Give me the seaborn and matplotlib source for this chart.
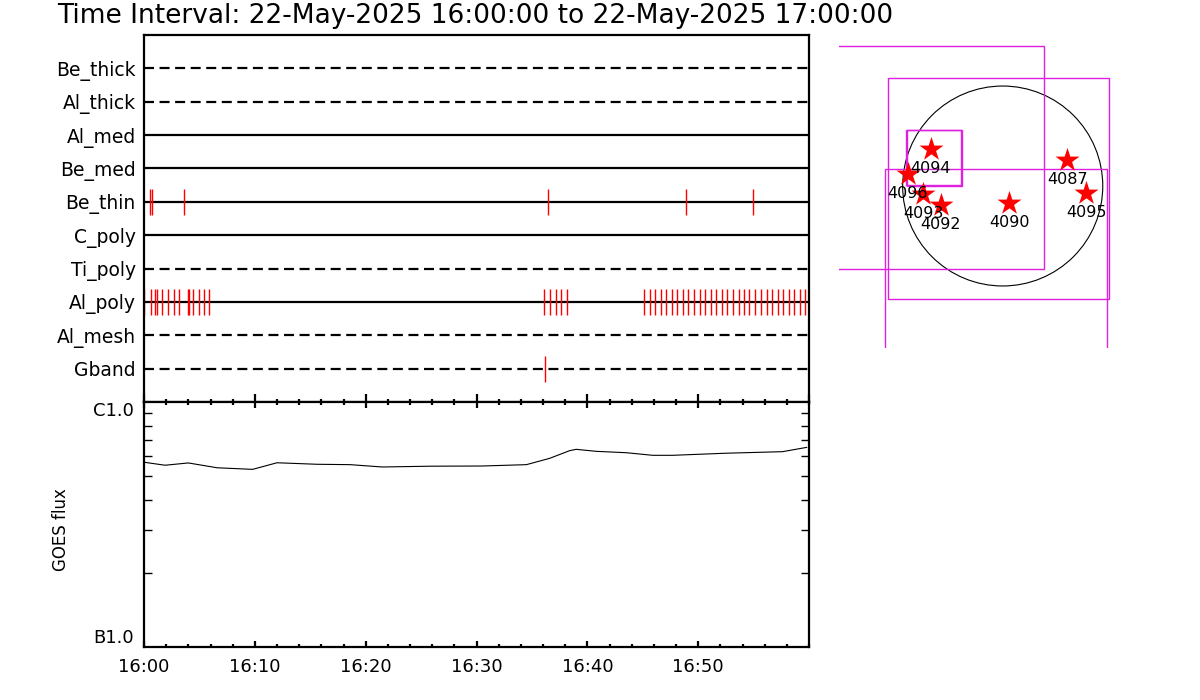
import seaborn as sns
import matplotlib.pyplot as plt
from matplotlib.patches import Circle, Rectangle
from matplotlib.ticker import FixedLocator, MultipleLocator, NullFormatter

title = "Time Interval: 22-May-2025 16:00:00 to 22-May-2025 17:00:00"

# detector rows, top to bottom
detectors = ["Be_thick", "Al_thick", "Al_med", "Be_med", "Be_thin",
             "C_poly", "Ti_poly", "Al_poly", "Al_mesh", "Gband"]
row_dashed = [True, True, False, False, False, False, True, False, True, True]

# exposure times, minutes after 16:00
be_thin_events = [0.57, 0.72, 3.64, 36.45, 48.88, 54.92]
al_poly_events = [0.0, 0.66, 1.02, 1.17, 1.65, 2.18, 2.67, 3.18, 3.93, 4.02,
                  4.39, 4.93, 5.44, 5.89,
                  36.12, 36.63, 37.15, 37.65, 38.14,
                  45.14, 45.63, 46.13, 46.62, 47.13, 47.61, 48.12, 48.61,
                  49.08, 49.65, 50.14, 50.64, 51.16, 51.64, 52.15, 52.63,
                  53.14, 53.65, 54.13, 54.62, 55.13, 55.67, 56.18, 56.69,
                  57.18, 57.68, 58.17, 58.68, 59.19, 59.67]
gband_events = [36.2]

# GOES 1-8 A flux
goes_minutes = [0.1, 1.9, 4.0, 6.6, 9.8, 12.0, 15.6, 18.6, 21.5, 25.8, 30.5,
                34.5, 36.6, 38.4, 39.0, 40.8, 43.5, 45.9, 47.7, 52.5, 57.6, 59.8]
goes_flux = [5.67e-7, 5.52e-7, 5.64e-7, 5.39e-7, 5.31e-7, 5.65e-7, 5.57e-7,
             5.55e-7, 5.43e-7, 5.47e-7, 5.48e-7, 5.55e-7, 5.89e-7, 6.33e-7,
             6.41e-7, 6.29e-7, 6.21e-7, 6.06e-7, 6.06e-7, 6.18e-7, 6.27e-7,
             6.53e-7]

time_ticks = [0, 10, 20, 30, 40, 50]
time_labels = ["16:00", "16:10", "16:20", "16:30", "16:40", "16:50"]

# active regions on the disk (arcsec)
ar_numbers = ["4094", "4096", "4093", "4092", "4090", "4087", "4095"]
ar_x = [-681, -902, -754, -586, 60, 614, 791]
ar_y = [352, 114, -79, -181, -159, 247, -64]

# pointing boxes (arcsec): x0, x1, y0, y1
box_x0 = [-2000, -1093, -1115, -919, -907]
box_x1 = [395, 1013, 994, -394, -384]
box_y0 = [-789, -1074, -2000, 10, 0]
box_y1 = [1330, 1029, 159, 529, 529]

sns.set_style("ticks")
plt.rcParams["font.family"] = ["DejaVu Sans"]
plt.rcParams["axes.linewidth"] = 1.6
for key in ["text.color", "axes.labelcolor", "axes.edgecolor",
            "xtick.color", "ytick.color"]:
    plt.rcParams[key] = "black"

fig = plt.figure(figsize=(12, 7), dpi=100)
ax1 = fig.add_axes([0.12, 0.4257, 0.5542, 0.5243])
ax2 = fig.add_axes([0.12, 0.0757, 0.5542, 0.35])
ax3 = fig.add_axes([0.6992, 0.5029, 0.2575, 0.4414])

fig.text(0.0475, 0.977, title, fontsize=19, ha="left", va="center")

# --- detector timeline
rows = list(range(1, len(detectors) + 1))
for r, dashed in zip(rows, row_dashed):
    ax1.hlines(r, 0, 60, color="black", lw=1.6,
               linestyles=(0, (4.5, 2.5)) if dashed else "solid")
events = {"Be_thin": be_thin_events, "Al_poly": al_poly_events, "Gband": gband_events}
for name, times in events.items():
    r = detectors.index(name) + 1
    ax1.vlines(times, r - 0.39, r + 0.39, color="red", lw=1.0)
ax1.set_xlim(0, 60)
ax1.set_ylim(11, 0)
ax1.set_yticks(rows)
ax1.set_yticklabels(detectors, fontsize=13.5)
ax1.tick_params(axis="y", length=0, pad=6)
ax1.xaxis.set_major_locator(MultipleLocator(10))
ax1.xaxis.set_minor_locator(MultipleLocator(2))
ax1.tick_params(axis="x", which="major", direction="in", length=6, width=1.6,
                labelbottom=False)
ax1.tick_params(axis="x", which="minor", direction="in", length=2, width=1.6)

# --- GOES light curve
sns.lineplot(x=goes_minutes, y=goes_flux, ax=ax2, color="black", lw=0.8)
ax2.set_yscale("log")
ax2.set_xlim(0, 60)
ax2.set_ylim(1e-7, 1e-6)
ax2.set_yticks([1e-7, 1e-6])
ax2.set_yticklabels(["B1.0", "C1.0"], fontsize=13)
ax2.yaxis.set_minor_locator(FixedLocator([k * 1e-7 for k in range(2, 10)]))
ax2.yaxis.set_minor_formatter(NullFormatter())
ax2.tick_params(axis="y", which="major", length=0, pad=7)
ax2.tick_params(axis="y", which="minor", direction="in", length=6, width=1,
                left=True, right=True)
lab = ax2.get_yticklabels()
lab[0].set_va("bottom")
lab[1].set_va("top")
ax2.set_xticks(time_ticks)
ax2.set_xticklabels(time_labels, fontsize=13)
ax2.xaxis.set_minor_locator(MultipleLocator(2))
ax2.tick_params(axis="x", which="major", direction="in", length=4, width=1.6,
                top=True, pad=8)
ax2.tick_params(axis="x", which="minor", direction="in", length=2, width=1.6,
                top=True)
ax2.set_ylabel("GOES flux", fontsize=12)
ax2.yaxis.set_label_coords(-0.111, 0.478)

# --- solar disk and pointing
ax3.add_patch(Circle((0, 0), 950, fill=False, color="black", lw=0.8))
for x0, x1, y0, y1 in zip(box_x0, box_x1, box_y0, box_y1):
    ax3.add_patch(Rectangle((x0, y0), x1 - x0, y1 - y0, fill=False,
                            edgecolor="#e020e0", lw=1.0))
sns.scatterplot(x=ar_x, y=ar_y, ax=ax3, marker="*", s=330, color="red",
                edgecolor="red", linewidth=0, zorder=3)
for num, x, y in zip(ar_numbers, ar_x, ar_y):
    ax3.annotate(num, (x, y), xytext=(0, -14), textcoords="offset points",
                 ha="center", va="center", fontsize=11.5)
ax3.set_xlim(-1554, 1380)
ax3.set_ylim(-1539, 1397)
ax3.axis("off")

fig.savefig("out.png", dpi=100)
